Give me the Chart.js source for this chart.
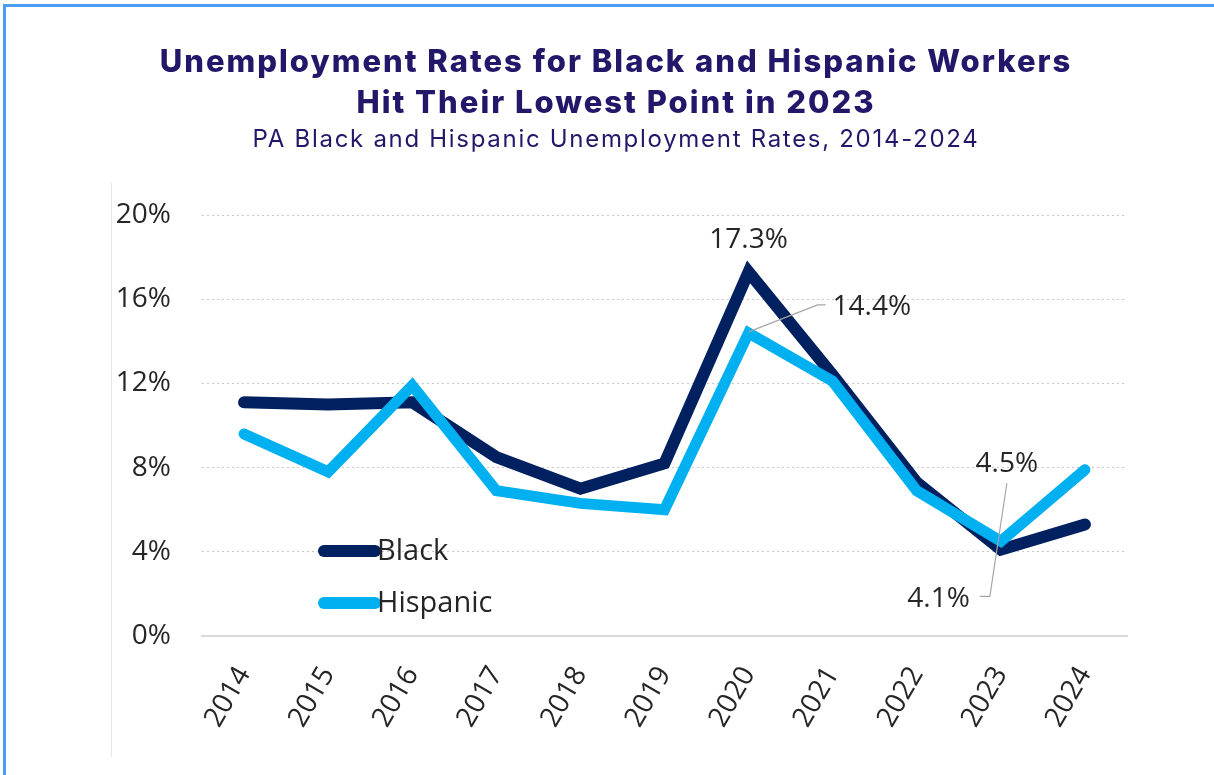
<!DOCTYPE html>
<html>
<head>
<meta charset="utf-8">
<script src="https://cdn.jsdelivr.net/npm/chart.js@4.4.1/dist/chart.umd.min.js"></script>
<style>
  html, body { margin: 0; padding: 0; background: #fff; }
  body { width: 1214px; height: 775px; position: relative; overflow: hidden; }
  .frame { position: absolute; left: 3px; top: 4px; right: 0; bottom: 0; border-top: 3px solid #4a9cf4; border-left: 3px solid #4a9cf4; }
  .edge { position: absolute; left: 111px; top: 183px; height: 574px; border-left: 1px solid #e6e6e6; }
  #chartWrap { position: absolute; left: 0; top: 0; width: 1214px; height: 775px; }
</style>
</head>
<body>
<div class="frame"></div>
<div class="edge"></div>
<div id="chartWrap"><canvas id="rateChart"></canvas></div>
<script>
const years = ['2014', '2015', '2016', '2017', '2018', '2019', '2020', '2021', '2022', '2023', '2024'];
const blackRates = [11.1, 11.0, 11.1, 8.5, 7.0, 8.2, 17.3, 12.4, 7.3, 4.1, 5.3];
const hispanicRates = [9.6, 7.8, 11.9, 6.9, 6.3, 6.0, 14.4, 12.1, 6.9, 4.5, 7.9];
const yTicks = [0, 4, 8, 12, 16, 20];

const titleLines = ['Unemployment Rates for Black and Hispanic Workers', 'Hit Their Lowest Point in 2023'];
const subtitleText = 'PA Black and Hispanic Unemployment Rates, 2014-2024';

const navy = '#002060';
const sky = '#00b0f0';
const ink = '#23176a';
const textColor = '#262626';
const bodyFont = '"Open Sans", "Noto Sans", sans-serif';
const tickFont = { family: bodyFont, size: 28 };

// heading drawn with letter spacing, space kept free by layout.padding.top
const header = {
    id: 'header',
    afterDraw(chart) {
        const ctx = chart.ctx;
        const cx = 615;
        ctx.save();
        ctx.fillStyle = ink;
        ctx.textAlign = 'center';
        ctx.textBaseline = 'middle';
        ctx.font = '800 31px Inter, Roboto, sans-serif';
        ctx.letterSpacing = '2px';
        titleLines.forEach((line, i) => ctx.fillText(line, cx + 1, 63 + i * 41));
        ctx.font = '400 24px Inter, Roboto, sans-serif';
        ctx.letterSpacing = '1.7px';
        ctx.fillText(subtitleText, cx + 1, 140);
        ctx.restore();
    }
};

// legend sits inside the plot, lower left
const insideLegend = {
    id: 'insideLegend',
    afterDatasetsDraw(chart) {
        const ctx = chart.ctx;
        const area = chart.chartArea;
        const x0 = area.left + 122;
        const rows = [area.bottom - 85, area.bottom - 33];
        ctx.save();
        chart.data.datasets.forEach((ds, i) => {
            const y = rows[i];
            ctx.strokeStyle = ds.borderColor;
            ctx.lineWidth = 12;
            ctx.lineCap = 'round';
            ctx.beginPath();
            ctx.moveTo(x0, y);
            ctx.lineTo(x0 + 51, y);
            ctx.stroke();
            ctx.fillStyle = textColor;
            ctx.font = '29px ' + bodyFont;
            ctx.textAlign = 'left';
            ctx.textBaseline = 'middle';
            ctx.fillText(ds.label, x0 + 53, y + 1);
        });
        ctx.restore();
    }
};

// value callouts for the 2020 peak and the 2023 low
const callouts = {
    id: 'callouts',
    afterDatasetsDraw(chart) {
        const ctx = chart.ctx;
        const xs = chart.scales.x;
        const ys = chart.scales.y;
        const fmt = v => v.toFixed(1) + '%';
        const i2020 = years.indexOf('2020');
        const i2023 = years.indexOf('2023');

        ctx.save();
        ctx.font = '28px ' + bodyFont;
        ctx.fillStyle = textColor;
        ctx.textBaseline = 'middle';

        // 17.3% above the black peak
        let px = xs.getPixelForValue(i2020);
        let py = ys.getPixelForValue(blackRates[i2020]);
        ctx.textAlign = 'center';
        ctx.fillText(fmt(blackRates[i2020]), px, py - 32);

        // 14.4% with a leader line
        py = ys.getPixelForValue(hispanicRates[i2020]);
        ctx.strokeStyle = '#a6a6a6';
        ctx.lineWidth = 1.2;
        ctx.beginPath();
        ctx.moveTo(px, py - 1);
        ctx.lineTo(px + 69, py - 28);
        ctx.lineTo(px + 77, py - 28);
        ctx.stroke();
        ctx.textAlign = 'left';
        ctx.fillText(fmt(hispanicRates[i2020]), px + 84, py - 26);

        // 2023 lows share one leader line
        px = xs.getPixelForValue(i2023);
        const hy = ys.getPixelForValue(hispanicRates[i2023]);
        ctx.beginPath();
        ctx.moveTo(px + 6, hy - 58);
        ctx.lineTo(px - 11, hy + 55);
        ctx.lineTo(px - 21, hy + 55);
        ctx.stroke();
        ctx.textAlign = 'center';
        ctx.fillText(fmt(hispanicRates[i2023]), px + 6, hy - 77);
        ctx.textAlign = 'right';
        ctx.fillText(fmt(blackRates[i2023]), px - 31, hy + 58);
        ctx.restore();
    }
};

const ctx = document.getElementById('rateChart').getContext('2d');
new Chart(ctx, {
    type: 'line',
    data: {
        labels: years,
        datasets: [{
            label: 'Black',
            data: blackRates,
            borderColor: navy,
            borderWidth: 12,
            borderCapStyle: 'round',
            borderJoinStyle: 'miter',
            pointRadius: 0,
            tension: 0,
            order: 1
        }, {
            label: 'Hispanic',
            data: hispanicRates,
            borderColor: sky,
            borderWidth: 11,
            borderCapStyle: 'round',
            borderJoinStyle: 'miter',
            pointRadius: 0,
            tension: 0,
            order: 0
        }]
    },
    options: {
        responsive: true,
        maintainAspectRatio: false,
        animation: false,
        layout: { padding: { left: 112, right: 87, top: 215, bottom: 0 } },
        plugins: {
            legend: { display: false },
            tooltip: { enabled: false },
            title: { display: false }
        },
        scales: {
            x: {
                offset: true,
                grid: { display: false },
                border: { display: true, color: '#d9d9d9', width: 2 },
                ticks: {
                    color: textColor,
                    font: tickFont,
                    minRotation: 60,
                    maxRotation: 60,
                    padding: 17
                },
                afterFit(scale) { scale.height = 139; }
            },
            y: {
                min: 0,
                max: 20,
                afterBuildTicks(scale) { scale.ticks = yTicks.map(v => ({ value: v })); },
                grid: { color: '#c8c8c8', lineWidth: 1, drawTicks: false },
                border: { display: false, dash: [2, 3] },
                ticks: {
                    color: textColor,
                    font: tickFont,
                    padding: 31,
                    callback: v => v + '%'
                },
                afterFit(scale) { scale.width = 90; }
            }
        }
    },
    plugins: [header, insideLegend, callouts]
});
</script>
</body>
</html>
